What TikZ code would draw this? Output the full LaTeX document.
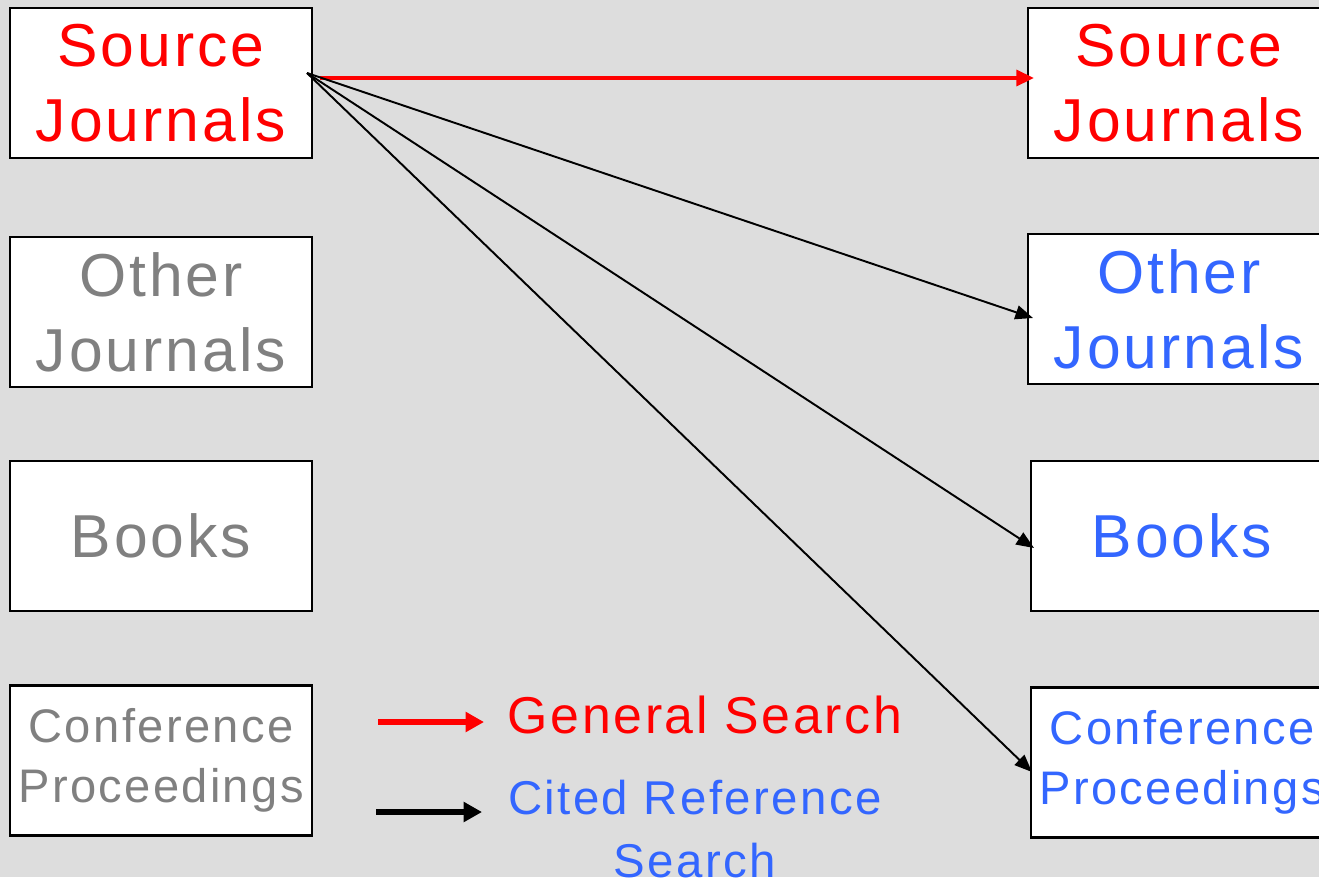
\documentclass[tikz,border=0pt]{standalone}
\usepackage{fontspec}
\setmainfont{Liberation Sans}[LetterSpace=5]
\usetikzlibrary{positioning}
\usetikzlibrary{arrows.meta}
\definecolor{bgray}{HTML}{DDDDDD}
\definecolor{dimgray}{HTML}{808080}
\definecolor{citeblue}{HTML}{3366FF}
\begin{document}
\begin{tikzpicture}
  [x=0.02cm,y=-0.02cm,
  box/.style={rectangle,draw=black,fill=white,line width=1.2pt,minimum width=6.04cm,minimum height=3cm,align=center,inner sep=0pt,font=\fontsize{34.5}{42.5}\selectfont},
  smallbox/.style={box,font=\fontsize{26.8}{34}\selectfont},
  legend/.style={align=center,inner sep=0pt,font=\fontsize{27}{35.7}\selectfont},
  general/.style={-{Triangle[length=10pt,width=9pt]},red,line width=2pt},
  cited/.style={-{Triangle[length=10pt,width=8pt]},black,line width=1.1pt},
  keyarrow/.style={-{Triangle[length=10.5pt,width=11pt]}}]
  \clip (0,0) rectangle (1319,877);
  \fill[bgray] (0,0) rectangle (1319,877);

  \node[box,text=red] (l1) at (161,83) {Source\\Journals};
  \node[box,text=dimgray] (l2) at (161,312) {Other\\Journals};
  \node[box,text=dimgray] (l3) at (161,536) {Books};
  \node[smallbox,text=dimgray] (l4) at (161,760.5) {Conference\\Proceedings};

  \node[box,text=red] (r1) at (1179,83) {Source\\Journals};
  \node[box,text=citeblue] (r2) at (1179,309) {Other\\Journals};
  \node[box,text=citeblue] (r3) at (1182,536) {Books};
  \node[smallbox,text=citeblue] (r4) at (1182,762.5) {Conference\\Proceedings};

  \coordinate (src) at (307,73);
  \coordinate (gs) at (320,78);
  \coordinate (t1) at (1034,78);
  \coordinate (t2) at (1033,318);
  \coordinate (t3) at (1034,548);
  \coordinate (t4) at (1032,772);

  \draw [general] (gs) -- (t1);
  \draw [cited] (src) -- (t2);
  \draw [cited] (src) -- (t3);
  \draw [cited] (src) -- (t4);

  \node[legend,text=red,font=\fontsize{29.5}{35.7}\selectfont] (gen) at (705,715) {General Search};
  \node[legend,text=citeblue] (cit) at (695,829) {Cited Reference\\Search};
  \coordinate (g0) at (378,722);
  \coordinate (g1) at (484,722);
  \coordinate (c0) at (376,812);
  \coordinate (c1) at (482,812);
  \draw [general,keyarrow,line width=3.2pt] (g0) -- (g1);
  \draw [cited,keyarrow,line width=3.8pt] (c0) -- (c1);
\end{tikzpicture}
\end{document}
